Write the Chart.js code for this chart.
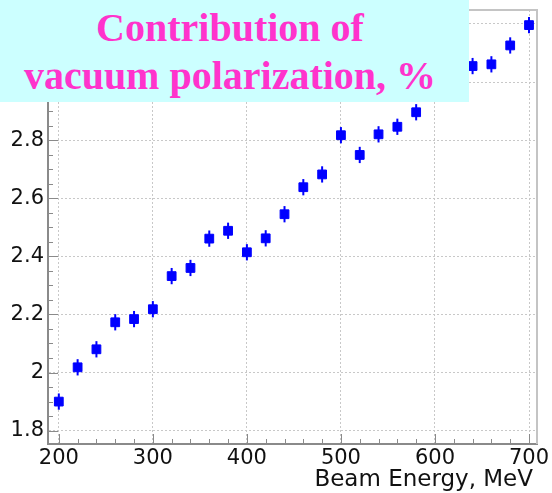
<!DOCTYPE html>
<html>
<head>
<meta charset="utf-8">
<script src="https://cdn.jsdelivr.net/npm/chart.js@4.4.1/dist/chart.umd.min.js"></script>
<style>
    body { margin: 0; background: #ffffff; }
    #wrap { position: relative; width: 552px; height: 493px; }
    #titulo {
        position: absolute; left: 0; top: 0; width: 469px; height: 102px;
        background: #ccffff; box-sizing: border-box; padding-top: 4px;
    }
    #titulo div {
        width: 460px; text-align: center; line-height: 48px; white-space: nowrap;
        font-family: "Liberation Serif", "Times New Roman", serif; font-weight: bold;
        font-size: 40px; color: #ff33cc;
    }
</style>
</head>
<body>
<div id="wrap">
    <canvas id="vp-chart" width="552" height="493"></canvas>
    <div id="titulo">
        <div>Contribution of</div>
        <div>vacuum polarization, %</div>
    </div>
</div>
<script>
// energias del haz (MeV) y contribucion de la polarizacion del vacio (%)
var energias = [200, 220, 240, 260, 280, 300, 320, 340, 360, 380, 400, 420, 440,
                460, 480, 500, 520, 540, 560, 580, 600, 620, 640, 660, 680, 700];
var valores = [1.900, 2.018, 2.080, 2.173, 2.184, 2.218, 2.332, 2.360, 2.461, 2.488, 2.414, 2.462, 2.545,
               2.638, 2.682, 2.817, 2.749, 2.820, 2.846, 2.896, 2.975, 3.010, 3.055, 3.061, 3.126, 3.196];
var errores = [0.028, 0.028, 0.028, 0.028, 0.028, 0.028, 0.028, 0.028, 0.028, 0.028, 0.028, 0.028, 0.028,
               0.028, 0.028, 0.028, 0.028, 0.028, 0.028, 0.028, 0.028, 0.028, 0.028, 0.028, 0.028, 0.028];

var ticksX = [200, 300, 400, 500, 600, 700];
var ticksY = [1.8, 2.0, 2.2, 2.4, 2.6, 2.8, 3.0, 3.2];
var tituloX = 'Beam Energy, MeV';

var puntos = [];
for (var i = 0; i < energias.length; i++) {
    puntos.push({ x: energias[i], y: valores[i] });
}

// barras de error, marco, marcas menores hacia dentro y titulo del eje x
var marcoPlugin = {
    id: 'marco',
    beforeDatasetsDraw: function (chart) {
        var ctx = chart.ctx;
        var sx = chart.scales.x, sy = chart.scales.y;
        ctx.save();
        ctx.strokeStyle = '#0000ff';
        ctx.lineWidth = 2;
        for (var i = 0; i < energias.length; i++) {
            var px = sx.getPixelForValue(energias[i]);
            ctx.beginPath();
            ctx.moveTo(px, sy.getPixelForValue(valores[i] - errores[i]));
            ctx.lineTo(px, sy.getPixelForValue(valores[i] + errores[i]));
            ctx.stroke();
        }
        ctx.restore();
    },
    afterDraw: function (chart) {
        var ctx = chart.ctx;
        var a = chart.chartArea;
        var sx = chart.scales.x, sy = chart.scales.y;
        ctx.save();
        // lados superior y derecho
        ctx.strokeStyle = '#c4c4c4';
        ctx.lineWidth = 2;
        ctx.beginPath();
        ctx.moveTo(a.left, a.top);
        ctx.lineTo(a.right, a.top);
        ctx.lineTo(a.right, a.bottom);
        ctx.stroke();

        ctx.strokeStyle = '#8a8a8a';
        ctx.lineWidth = 1;
        ctx.beginPath();
        for (var v = 200; v <= 700; v += 20) {
            var px = Math.round(sx.getPixelForValue(v)) + 0.5;
            var largo = (v % 100 === 0) ? 10 : 5;
            ctx.moveTo(px, a.bottom);
            ctx.lineTo(px, a.bottom - largo);
        }
        for (var k = 36; k <= 64; k++) {
            var py = Math.round(sy.getPixelForValue(k * 0.05)) + 0.5;
            var largoY = (k % 4 === 0) ? 10 : 5;
            ctx.moveTo(a.left, py);
            ctx.lineTo(a.left + largoY, py);
        }
        ctx.stroke();

        ctx.fillStyle = '#111111';
        ctx.font = '23px "DejaVu Sans"';
        ctx.textAlign = 'right';
        ctx.textBaseline = 'middle';
        ctx.fillText(tituloX, a.right - 4, 480);
        ctx.restore();
    }
};

var chart = new Chart(document.getElementById('vp-chart').getContext('2d'), {
    type: 'scatter',
    data: {
        datasets: [{
            data: puntos,
            pointStyle: 'rect',
            pointRadius: 6.2,
            pointHoverRadius: 6.2,
            backgroundColor: '#0000ff',
            borderColor: '#0000ff',
            borderWidth: 1
        }]
    },
    options: {
        responsive: false,
        animation: false,
        layout: { padding: { top: 10, right: 15, left: 0, bottom: 0 } },
        plugins: { legend: { display: false }, tooltip: { enabled: false } },
        scales: {
            x: {
                type: 'linear',
                min: 188.5,
                max: 708.5,
                afterFit: function (scale) {
                    scale.height = 49;
                    scale.paddingLeft = 0;
                    scale.paddingRight = 0;
                },
                afterBuildTicks: function (scale) {
                    scale.ticks = ticksX.map(function (v) { return { value: v }; });
                },
                grid: { color: '#c8c8c8', lineWidth: 1, drawTicks: false },
                border: { display: true, color: '#8a8a8a', width: 2, dash: [2, 2] },
                ticks: {
                    padding: 2,
                    color: '#111111',
                    font: { family: 'DejaVu Sans', size: 21 }
                }
            },
            y: {
                type: 'linear',
                min: 1.754,
                max: 3.248,
                afterFit: function (scale) {
                    scale.width = 48;
                    scale.paddingTop = 0;
                    scale.paddingBottom = 0;
                },
                afterBuildTicks: function (scale) {
                    scale.ticks = ticksY.map(function (v) { return { value: v }; });
                },
                grid: { color: '#c8c8c8', lineWidth: 1, drawTicks: false },
                border: { display: true, color: '#8a8a8a', width: 2, dash: [2, 2] },
                ticks: {
                    padding: 4,
                    color: '#111111',
                    font: { family: 'DejaVu Sans', size: 21 },
                    callback: function (v) { return String(+v.toFixed(1)); }
                }
            }
        }
    },
    plugins: [marcoPlugin]
});
</script>
</body>
</html>
